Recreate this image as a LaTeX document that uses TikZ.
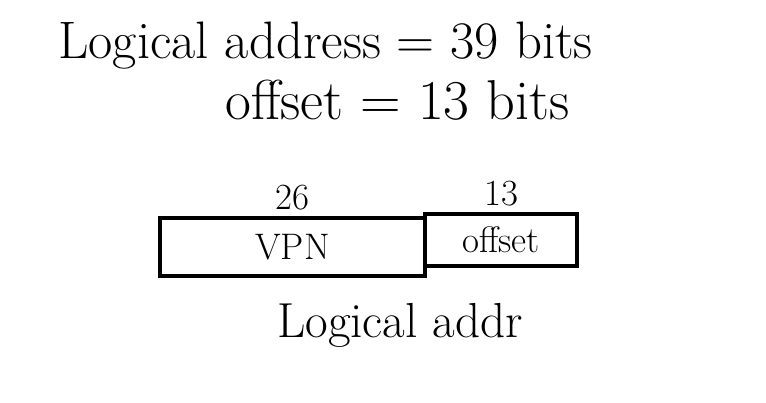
\documentclass[tikz,border=0pt]{standalone}
\usepackage{tikz}
\usetikzlibrary{positioning, backgrounds}
\tikzstyle{field} = [rectangle, draw=black, line width=2pt, fill=white, inner sep=0pt, text centered]
\tikzstyle{big} = [font=\fontsize{30}{34}\selectfont, anchor=west, inner sep=0pt]
\tikzstyle{mid} = [font=\fontsize{21}{25}\selectfont, inner sep=0pt]

\begin{document}
\begin{tikzpicture}[background rectangle/.style={fill=white}, show background rectangle]

    \useasboundingbox (0, 0) rectangle (15.32, -8.04);

    \node (total) [big] at (1.16, -0.92) {Logical address = 39 bits};
    \node (offbits) [big, font=\fontsize{32}{36}\selectfont] at (4.5, -2.0) {offset = 13 bits};

    \node (vpn) [field, minimum width=5.3cm, minimum height=1.16cm] at (5.85, -4.94) {};
    \node (off) [field, minimum width=3.04cm, minimum height=1.04cm] at (10.02, -4.80) {};

    \node (vpntxt) [mid] at (vpn) {VPN};
    \node (offtxt) [mid] at (off) {offset};
    \node (vpnlen) [mid, above=0.12cm of vpn] {26};
    \node (offlen) [mid, above=0.12cm of off] {13};

    \node (caption) [font=\fontsize{28}{32}\selectfont] at (8.0, -6.5) {Logical addr};

\end{tikzpicture}
\end{document}
